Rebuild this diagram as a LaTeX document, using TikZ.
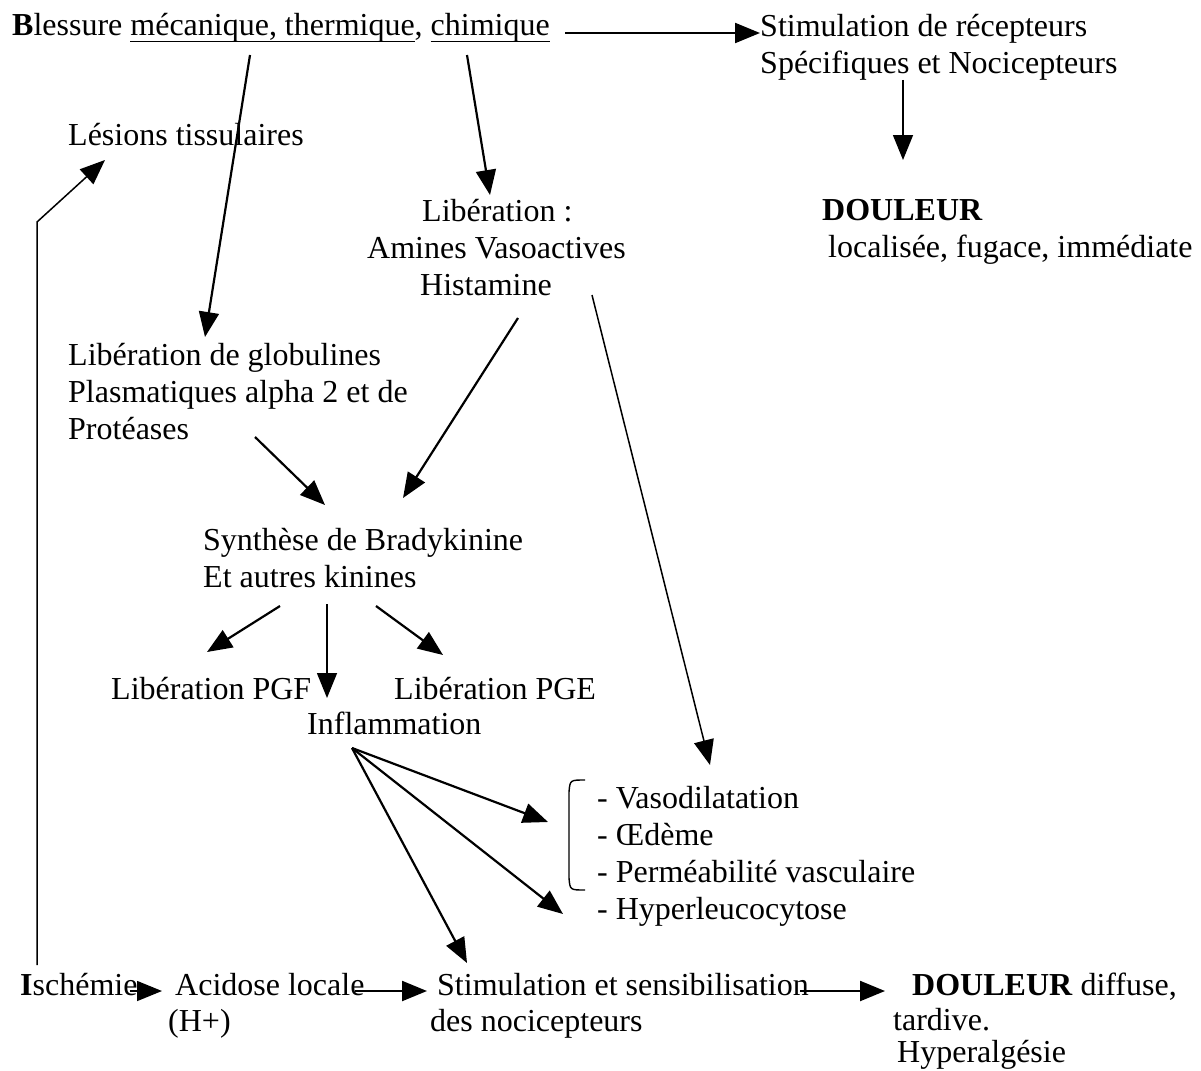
\documentclass[tikz,border=0pt]{standalone}
\usepackage{fontspec}
\setmainfont{Liberation Serif}
\usetikzlibrary{arrows.meta}
% underline drawn as a rule a little below the baseline
\newsavebox\ulinebox
\newcommand\ulin[1]{\sbox\ulinebox{#1}\rlap{\rule[-6pt]{\wd\ulinebox}{1.3pt}}\usebox\ulinebox}
\begin{document}
\begin{tikzpicture}[x=1pt,y=-1pt,
  txt/.style={anchor=base west,inner sep=0pt,font=\fontsize{32}{37}\selectfont},
  tip/.style={-{Triangle[length=25pt,width=20pt]}},
  arr/.style={line width=2.2pt,tip},
  thinarr/.style={line width=1.5pt,tip}]
\useasboundingbox (0,0) rectangle (1201,1070);

% --- text blocks ---
\node[txt] (bless) at (12,36) {\textbf{B}lessure \ulin{mécanique, thermique}, \ulin{chimique}};
\node[txt] (stimA) at (760,37) {Stimulation de récepteurs};
\node[txt] (stimB) at (760,74) {Spécifiques et Nocicepteurs};
\node[txt] (douA) at (822,220) {\textbf{DOULEUR}};
\node[txt] (douB) at (828,257) {localisée, fugace, immédiate};
\node[txt] (les) at (68,145) {Lésions tissulaires};
\node[txt] (libA) at (422,221) {Libération :};
\node[txt] (libB) at (367,258) {Amines Vasoactives};
\node[txt] (libC) at (420,295) {Histamine};
\node[txt] (gloA) at (68,365) {Libération de globulines};
\node[txt] (gloB) at (68,402) {Plasmatiques alpha 2 et de};
\node[txt] (gloC) at (68,439) {Protéases};
\node[txt] (braA) at (203,550) {Synthèse de Bradykinine};
\node[txt] (braB) at (203,587) {Et autres kinines};
\node[txt] (pgf) at (111,699) {Libération PGF};
\node[txt] (pge) at (394,699) {Libération PGE};
\node[txt] (infl) at (307,734) {Inflammation};
\node[txt] (vaso) at (597,808) {- Vasodilatation};
\node[txt] (oed) at (597,845) {- Œdème};
\node[txt] (perm) at (597,882) {- Perméabilité vasculaire};
\node[txt] (hyper) at (597,919) {- Hyperleucocytose};
\node[txt] (isch) at (20,995) {\textbf{I}schémie};
\node[txt] (acidA) at (175,995) {Acidose locale};
\node[txt] (acidB) at (168,1031) {(H+)};
\node[txt] (nocA) at (437,995) {Stimulation et sensibilisation};
\node[txt] (nocB) at (430,1031) {des nocicepteurs};
\node[txt] (diffA) at (912,995) {\textbf{DOULEUR} diffuse,};
\node[txt] (diffB) at (893,1030) {tardive.};
\node[txt] (diffC) at (897,1062) {Hyperalgésie};

% --- connector end points ---
\coordinate (blessR) at (565,33);
\coordinate (stimIn) at (760,33);
\coordinate (stimOut) at (903,80);
\coordinate (douIn) at (903,160);
\coordinate (blessM) at (250,55);
\coordinate (gloIn) at (205,337);
\coordinate (blessC) at (467,55);
\coordinate (libIn) at (490,195);
\coordinate (ischUp) at (37,965);
\coordinate (bend) at (37,222);
\coordinate (lesIn) at (105,160);
\coordinate (gloOut) at (255,437);
\coordinate (braInL) at (325,505);
\coordinate (libOutL) at (518,318);
\coordinate (braInR) at (403,498);
\coordinate (libOutR) at (592,295);
\coordinate (listIn) at (710,765);
\coordinate (braOutL) at (280,606);
\coordinate (pgfIn) at (207,652);
\coordinate (braOutM) at (327,604);
\coordinate (inflIn) at (327,698);
\coordinate (braOutR) at (376,606);
\coordinate (pgeIn) at (443,655);
\coordinate (inflOut) at (352,748);
\coordinate (vasoIn) at (548,822);
\coordinate (hyperIn) at (563,914);
\coordinate (nocIn) at (467,963);
\coordinate (ischR) at (130,991);
\coordinate (acidIn) at (162,991);
\coordinate (acidR) at (355,991);
\coordinate (nocInL) at (427,991);
\coordinate (nocR) at (800,991);
\coordinate (diffIn) at (885,991);

% --- connectors ---
\draw[arr] (blessR) -- (stimIn);
\draw[thinarr] (stimOut) -- (douIn);
\draw[arr] (blessM) -- (gloIn);
\draw[arr] (blessC) -- (libIn);
\draw[thinarr] (ischUp) -- (bend) -- (lesIn);
\draw[arr] (gloOut) -- (braInL);
\draw[arr] (libOutL) -- (braInR);
\draw[thinarr] (libOutR) -- (listIn);
\draw[arr] (braOutL) -- (pgfIn);
\draw[thinarr] (braOutM) -- (inflIn);
\draw[arr] (braOutR) -- (pgeIn);
\draw[arr] (inflOut) -- (vasoIn);
\draw[arr] (inflOut) -- (hyperIn);
\draw[arr] (inflOut) -- (nocIn);
\draw[thinarr] (ischR) -- (acidIn);
\draw[arr] (acidR) -- (nocInL);
\draw[arr] (nocR) -- (diffIn);

% bracket grouping the first three effects
\draw[line width=1.4pt] (585,780) .. controls (570,780) .. (569,792)
  -- (569,878) .. controls (570,890) .. (585,890);
\end{tikzpicture}
\end{document}
